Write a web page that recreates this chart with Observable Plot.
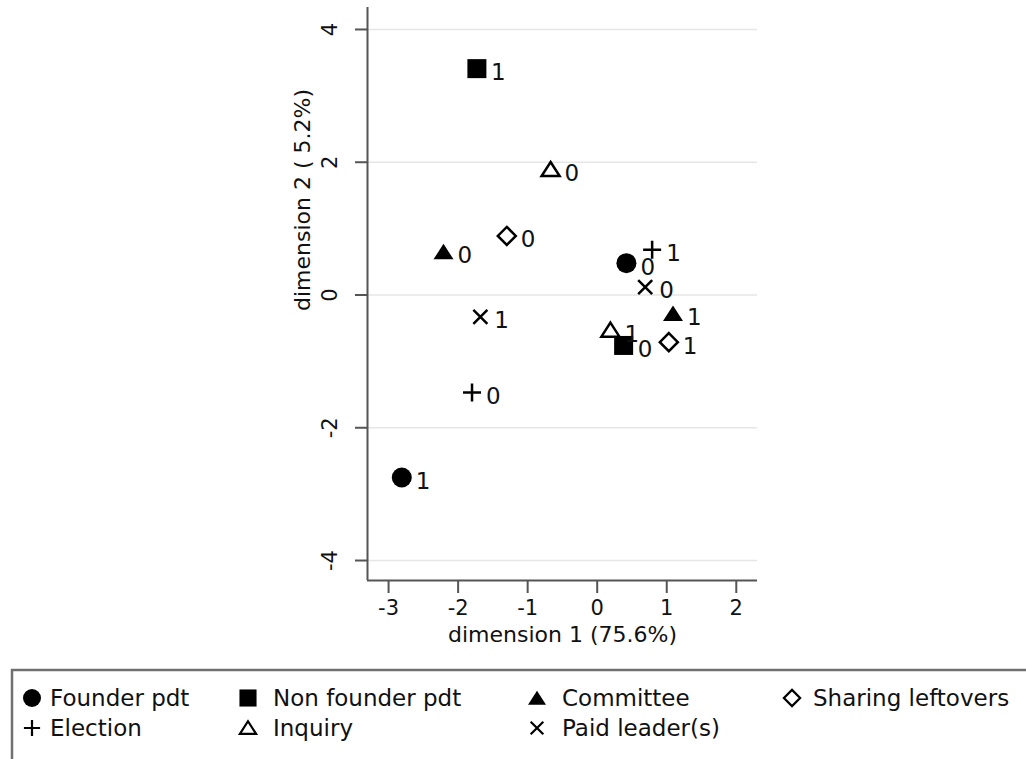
<!DOCTYPE html>
<html>
<head>
<meta charset="utf-8">
<script src="https://cdn.jsdelivr.net/npm/d3@7"></script>
<script src="https://cdn.jsdelivr.net/npm/@observablehq/plot@0.6"></script>
<style>
html, body { margin: 0; padding: 0; background: #fff; }
#chart svg { display: block; }
</style>
</head>
<body>
<div id="chart"></div>
<script>
// ---- data ----
const categories = ["Founder pdt", "Non founder pdt", "Committee", "Sharing leftovers", "Election", "Inquiry", "Paid leader(s)"];
const levels = ["0", "1"];
const dim1Level0 = [0.42, 0.38, -2.21, -1.30, -1.80, -0.67, 0.69];
const dim2Level0 = [0.48, -0.76, 0.65, 0.89, -1.47, 1.89, 0.12];
const dim1Level1 = [-2.81, -1.73, 1.09, 1.03, 0.79, 0.19, -1.68];
const dim2Level1 = [-2.75, 3.41, -0.28, -0.71, 0.68, -0.53, -0.33];
const xTicks = [-3, -2, -1, 0, 1, 2];
const yTicks = [-4, -2, 0, 2, 4];
const xTitle = "dimension 1 (75.6%)";
const yTitle = "dimension 2 ( 5.2%)";

// ---- symbols (style) ----
function mk(fn) { return { draw(ctx, size) { const k = Math.sqrt(size / Math.PI) / 10; fn(ctx, k); } }; }
const shapes = {
  circle: mk((c, k) => { c.moveTo(10 * k, 0); c.arc(0, 0, 10 * k, 0, 2 * Math.PI); c.closePath(); }),
  square: mk((c, k) => { const h = 9.5 * k; c.rect(-h, -h, 2 * h, 2 * h); }),
  triangle: mk((c, k) => { c.moveTo(0, -8 * k); c.lineTo(10 * k, 7.5 * k); c.lineTo(-10 * k, 7.5 * k); c.closePath(); }),
  diamond: mk((c, k) => { const h = 9 * k; c.moveTo(0, -h); c.lineTo(h, 0); c.lineTo(0, h); c.lineTo(-h, 0); c.closePath(); }),
  plus: mk((c, k) => { const h = 9 * k; c.moveTo(-h, 0); c.lineTo(h, 0); c.moveTo(0, -h); c.lineTo(0, h); }),
  openTriangle: mk((c, k) => { c.moveTo(0, -7.5 * k); c.lineTo(9 * k, 6.5 * k); c.lineTo(-9 * k, 6.5 * k); c.closePath(); }),
  cross: mk((c, k) => { const h = 7 * k; c.moveTo(-h, -h); c.lineTo(h, h); c.moveTo(h, -h); c.lineTo(-h, h); })
};
const styles = [
  { sym: shapes.circle, filled: true },
  { sym: shapes.square, filled: true },
  { sym: shapes.triangle, filled: true },
  { sym: shapes.diamond, filled: false },
  { sym: shapes.plus, filled: false },
  { sym: shapes.openTriangle, filled: false },
  { sym: shapes.cross, filled: false }
];

// ---- table ----
const rows = [];
categories.forEach((cat, i) => {
  rows.push({ cat, i, level: levels[0], d1: dim1Level0[i], d2: dim2Level0[i] });
  rows.push({ cat, i, level: levels[1], d1: dim1Level1[i], d2: dim2Level1[i] });
});

const W = 1026, H = 664;
const mL = 367, mR = W - 757, mT = 7, mB = H - 580;
const xDom = [-3.303, 2.305];
const yDom = [-4.301, 4.331];
const ink = "#111";
const axisCol = "#555";
const font = "DejaVu Sans";

const marks = [
  Plot.gridY({ ticks: yTicks, stroke: "#e6e6e6", strokeOpacity: 1, strokeWidth: 1.5 }),
  Plot.axisY({ ticks: yTicks, tickSize: 12, tickFormat: () => "", stroke: axisCol, strokeWidth: 2, label: null }),
  Plot.axisX({ ticks: xTicks, tickSize: 13, tickFormat: () => "", stroke: axisCol, strokeWidth: 2, label: null }),
  Plot.ruleX([xDom[0]], { y1: yDom[0], y2: yDom[1], stroke: axisCol, strokeWidth: 2 }),
  Plot.ruleY([yDom[0]], { x1: xDom[0], x2: xDom[1], stroke: axisCol, strokeWidth: 2 }),
  Plot.text(yTicks, { x: xDom[0], y: d => d, text: d => String(d), rotate: -90, dx: -37, fontSize: 21, fill: ink }),
  Plot.text(xTicks, { x: d => d, y: yDom[0], text: d => String(d), dy: 28, fontSize: 21, fill: ink }),
  Plot.text([xTitle], { frameAnchor: "bottom", dy: 61, fontSize: 22, fill: ink }),
  Plot.text([yTitle], { frameAnchor: "left", dx: -65, dy: 17, rotate: -90, fontSize: 22, fill: ink })
];
categories.forEach((cat, i) => {
  const s = styles[i];
  const data = rows.filter(r => r.i === i);
  marks.push(Plot.dot(data, {
    x: "d1", y: "d2", symbol: s.sym, r: 10,
    fill: s.filled ? "#000" : "none",
    stroke: s.filled ? "none" : "#000",
    strokeWidth: s.filled ? 0 : 2.5
  }));
  marks.push(Plot.text(data, {
    x: "d1", y: "d2", text: "level", dx: 14, dy: 4, textAnchor: "start", fontSize: 23, fill: ink
  }));
});

const plot = Plot.plot({
  width: W, height: H,
  marginLeft: mL, marginRight: mR, marginTop: mT, marginBottom: mB,
  style: { fontFamily: font, background: "#fff", color: ink },
  x: { domain: xDom },
  y: { domain: yDom },
  marks
});
document.getElementById("chart").appendChild(plot);

// ---- legend ----
const legendItems = [
  { i: 0, col: 0, row: 0 }, { i: 1, col: 1, row: 0 }, { i: 2, col: 2, row: 0 }, { i: 3, col: 3, row: 0 },
  { i: 4, col: 0, row: 1 }, { i: 5, col: 1, row: 1 }, { i: 6, col: 2, row: 1 }
];
const colSym = [32, 248, 537, 792];
const colText = [50, 273, 562, 813];
const rowY = [698 - H, 728 - H];
const lg = d3.create("svg").attr("width", W).attr("height", 759 - H)
  .style("display", "block").style("font-family", font);
lg.append("rect").attr("x", 12).attr("y", 670 - H).attr("width", 1100).attr("height", 200)
  .attr("fill", "none").attr("stroke", "#707070").attr("stroke-width", 2.5);
legendItems.forEach(it => {
  const s = styles[it.i];
  const size = Math.PI * 9 * 9;
  lg.append("path")
    .attr("d", d3.symbol(s.sym, size)())
    .attr("transform", `translate(${colSym[it.col]},${rowY[it.row]})`)
    .attr("fill", s.filled ? "#000" : "none")
    .attr("stroke", s.filled ? "none" : "#000")
    .attr("stroke-width", s.filled ? 0 : 2.2);
  lg.append("text")
    .attr("x", colText[it.col]).attr("y", rowY[it.row]).attr("dy", "0.36em")
    .attr("font-size", 23).attr("fill", ink)
    .text(categories[it.i]);
});
document.getElementById("chart").appendChild(lg.node());
</script>
</body>
</html>
